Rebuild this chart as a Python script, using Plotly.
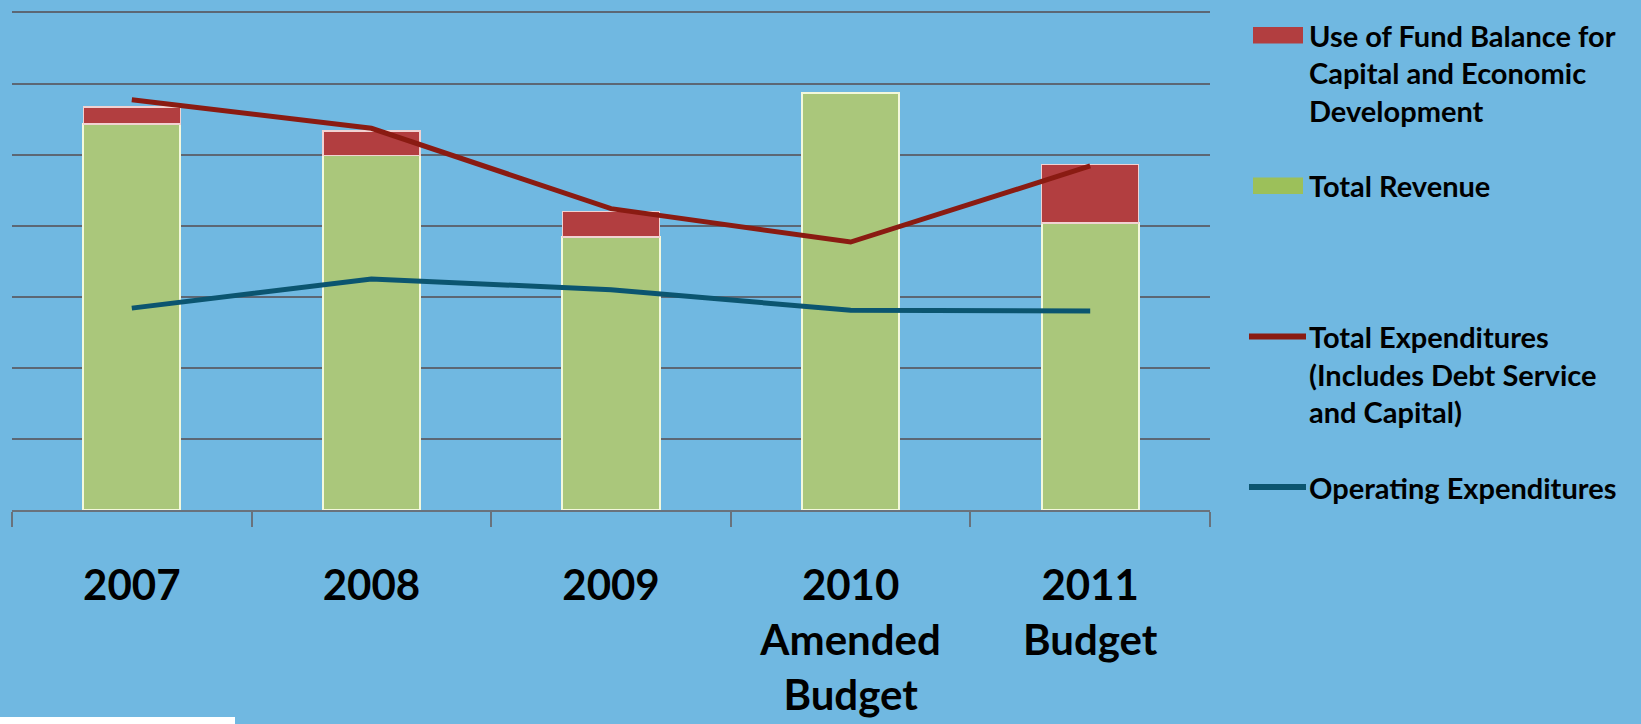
import plotly.graph_objects as go

# ---- data (units = one gridline step) ----
categories = ["2007", "2008", "2009", "2010<br>Amended<br>Budget", "2011<br>Budget"]
total_revenue = [5.43, 4.99, 3.84, 5.87, 4.04]
fund_balance_use = [0.24, 0.34, 0.36, None, 0.82]
total_expenditures = [5.77, 5.37, 4.24, 3.77, 4.84]
operating_expenditures = [2.84, 3.25, 3.10, 2.81, 2.80]

legend_labels = [
    ["Use of Fund Balance for", "Capital and Economic", "Development"],
    ["Total Revenue"],
    ["Total Expenditures", "(Includes Debt Service", "and Capital)"],
    ["Operating Expenditures"],
]

# ---- style ----
BG = "#70B8E1"
GREEN = "#AAC77B"
GREEN_EDGE = "#F3F8DC"
RED = "#B23E40"
RED_EDGE = "#F1D2D2"
LINE_RED = "#8A1B12"
LINE_TEAL = "#0B5570"
GRID = "#5C6774"
FONT = "Lato"

W, H = 1641, 724
ML, MR, MT, MB = 12, 431, 11, 214
PW, PH = W - ML - MR, H - MT - MB


def px(x):
    return (x - ML) / PW


def py(y):
    return (H - MB - y) / PH


fig = go.Figure()
fig.add_trace(go.Bar(
    x=categories, y=total_revenue, name="Total Revenue",
    marker=dict(color=GREEN, line=dict(color=GREEN_EDGE, width=2)),
    showlegend=False,
))
fig.add_trace(go.Bar(
    x=categories, y=fund_balance_use,
    name="Use of Fund Balance for Capital and Economic Development",
    marker=dict(color=RED, line=dict(color=RED_EDGE, width=1.5)),
    showlegend=False,
))
fig.add_trace(go.Scatter(
    x=categories, y=total_expenditures, mode="lines",
    name="Total Expenditures (Includes Debt Service and Capital)",
    line=dict(color=LINE_RED, width=5), showlegend=False,
))
fig.add_trace(go.Scatter(
    x=categories, y=operating_expenditures, mode="lines",
    name="Operating Expenditures",
    line=dict(color=LINE_TEAL, width=5), showlegend=False,
))

# ---- manual legend ----
shapes = []
annotations = []
entry_tops = [35, 185.5, 336.5, 487]
line_step = 37.7
swatch_kinds = [("rect", RED), ("rect", "#9CC05A"), ("line", LINE_RED), ("line", LINE_TEAL)]
for (kind, col), top, lines in zip(swatch_kinds, entry_tops, legend_labels):
    if kind == "rect":
        shapes.append(dict(type="rect", xref="paper", yref="paper",
                           x0=px(1253), x1=px(1303), y0=py(top - 8), y1=py(top + 8.5),
                           fillcolor=col, line=dict(width=0)))
    else:
        shapes.append(dict(type="line", xref="paper", yref="paper",
                           x0=px(1249), x1=px(1306), y0=py(top), y1=py(top),
                           line=dict(color=col, width=6)))
    for i, t in enumerate(lines):
        annotations.append(dict(xref="paper", yref="paper", x=px(1307), y=py(top + i * line_step),
                                xanchor="left", yanchor="middle", text=t, showarrow=False,
                                font=dict(family=FONT, size=29, color="black", weight="bold")))

# white strip at bottom left
shapes.append(dict(type="rect", xref="paper", yref="paper",
                   x0=px(0), x1=px(235), y0=py(724), y1=py(717),
                   fillcolor="white", line=dict(width=0)))

fig.update_layout(
    width=W, height=H,
    margin=dict(l=ML, r=MR, t=MT, b=MB, autoexpand=False),
    paper_bgcolor=BG, plot_bgcolor=BG,
    barmode="stack", bargap=0.595,
    shapes=shapes, annotations=annotations,
    showlegend=False,
    font=dict(family=FONT),
)
fig.update_xaxes(
    automargin=False,
    showgrid=False, showline=True, linecolor="#69727C", linewidth=2,
    ticks="outside", tickson="boundaries", ticklen=15, tickwidth=2, tickcolor="#69727C",
    tickfont=dict(family=FONT, size=42, color="black", weight="bold"),
    ticklabelstandoff=38,
)
fig.update_yaxes(
    automargin=False,
    range=[0, 7.02], dtick=1, showticklabels=False, showgrid=True,
    gridcolor=GRID, gridwidth=2, zeroline=False, showline=False,
)

fig.write_html(
    "out.html",
    config={"displayModeBar": False},
    post_script="document.body.style.margin='0';document.body.style.overflow='hidden';",
)
